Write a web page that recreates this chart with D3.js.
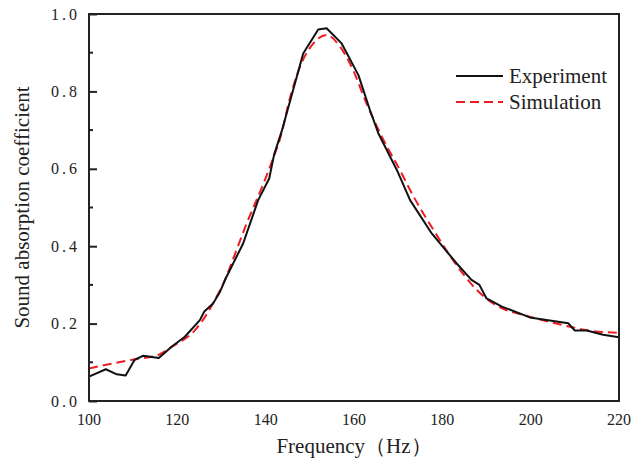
<!DOCTYPE html>
<html>
<head>
<meta charset="utf-8">
<script src="https://cdnjs.cloudflare.com/ajax/libs/d3/7.8.5/d3.min.js"></script>
<style>
  body { margin: 0; background: #fff; }
  text { font-family: "Liberation Serif", "Times New Roman", serif; fill: #222; }
</style>
</head>
<body>
<div id="chart"></div>
<script>
// experiment (solid black)
var expFreq = [100, 103.8, 106.3, 108.3, 110.3, 112.3, 115.8, 118.7, 121.7, 125.1, 126.1, 128.1, 129.7, 131,
    134.9, 138.3, 140.8, 141.9, 143.6, 148.5, 151.9, 153.8, 157.2, 161, 163.6, 165.5, 169.7, 172.7,
    177.6, 183.2, 186.6, 188.4, 190, 193.5, 199.8, 208.5, 210, 212.7, 216.4, 220];
var expAbs = [0.063, 0.082, 0.069, 0.066, 0.106, 0.117, 0.111, 0.140, 0.166, 0.209, 0.231, 0.252, 0.283, 0.318,
    0.407, 0.519, 0.575, 0.636, 0.696, 0.898, 0.960, 0.963, 0.924, 0.842, 0.752, 0.692, 0.597, 0.519,
    0.433, 0.356, 0.313, 0.300, 0.265, 0.244, 0.216, 0.201, 0.182, 0.182, 0.171, 0.165];

// simulation (red dashed)
var simFreq = [100, 103.6, 110.4, 115.7, 118.7, 124, 126.3, 128.5, 130.8, 132.7, 135.7, 139.5, 141.4, 143.8,
    145.1, 147.8, 150.8, 153.8, 156.8, 159.8, 162.5, 166.3, 170.8, 172.7, 178, 184, 187.8, 191.5,
    193.8, 199.1, 208.9, 212.7, 220];
var simAbs = [0.084, 0.093, 0.108, 0.119, 0.140, 0.183, 0.218, 0.261, 0.313, 0.369, 0.459, 0.562, 0.618, 0.700,
    0.765, 0.864, 0.924, 0.946, 0.916, 0.855, 0.778, 0.683, 0.588, 0.545, 0.442, 0.339, 0.287, 0.252,
    0.238, 0.220, 0.192, 0.183, 0.176];

var xTicks = [100, 120, 140, 160, 180, 200, 220];
var yTicks = [0, 0.2, 0.4, 0.6, 0.8, 1.0];
var yMinor = [0.1, 0.3, 0.5, 0.7, 0.9];
var legendNames = ["Experiment", "Simulation"];

var width = 644, height = 459;
var m = {top: 14, right: 25, bottom: 58, left: 89};

var x = d3.scaleLinear().domain([100, 220]).range([m.left, width - m.right]);
var y = d3.scaleLinear().domain([0, 1]).range([height - m.bottom, m.top]);

var svg = d3.select("#chart").append("svg")
    .attr("width", width)
    .attr("height", height);

// curves
var line = d3.line()
    .x(function (d) { return x(d[0]); })
    .y(function (d) { return y(d[1]); });

svg.append("path")
    .datum(d3.zip(simFreq, simAbs))
    .attr("d", line.curve(d3.curveMonotoneX))
    .attr("fill", "none")
    .attr("stroke", "#f01c24")
    .attr("stroke-width", 2)
    .attr("stroke-dasharray", "9,5");

svg.append("path")
    .datum(d3.zip(expFreq, expAbs))
    .attr("d", line.curve(d3.curveLinear))
    .attr("fill", "none")
    .attr("stroke", "#111")
    .attr("stroke-width", 2)
    .attr("stroke-linejoin", "round");

// frame
svg.append("rect")
    .attr("x", x(100))
    .attr("y", y(1))
    .attr("width", x(220) - x(100))
    .attr("height", y(0) - y(1))
    .attr("fill", "none")
    .attr("stroke", "#222")
    .attr("stroke-width", 2);

// y axis ticks (inward)
var yAxis = d3.axisRight(y).tickValues(yTicks).tickSize(8).tickFormat("");
svg.append("g")
    .attr("transform", "translate(" + x(100) + ",0)")
    .call(yAxis)
    .call(function (g) {
        g.select(".domain").remove();
        g.selectAll("line").attr("stroke", "#222").attr("stroke-width", 2);
    });

svg.append("g").selectAll("line")
    .data(yMinor)
    .enter().append("line")
    .attr("x1", x(100))
    .attr("x2", x(100) + 4)
    .attr("y1", function (d) { return y(d); })
    .attr("y2", function (d) { return y(d); })
    .attr("stroke", "#222")
    .attr("stroke-width", 2);

// tick labels
svg.append("g").selectAll("text")
    .data(yTicks)
    .enter().append("text")
    .attr("x", x(100) - 9)
    .attr("y", function (d) { return y(d); })
    .attr("dy", "0.35em")
    .attr("text-anchor", "end")
    .attr("font-size", 16)
    .attr("letter-spacing", 3)
    .text(function (d) { return d3.format(".1f")(d); });

svg.append("g").selectAll("text")
    .data(xTicks)
    .enter().append("text")
    .attr("x", function (d) { return x(d); })
    .attr("y", y(0) + 24)
    .attr("text-anchor", "middle")
    .attr("font-size", 16)
    .text(function (d) { return d; });

// axis titles
svg.append("text")
    .attr("x", (x(100) + x(220)) / 2)
    .attr("y", 453)
    .attr("text-anchor", "middle")
    .attr("font-size", 21)
    .text("Frequency（Hz）");

svg.append("text")
    .attr("transform", "translate(29," + (y(0) + y(1)) / 2 + ") rotate(-90)")
    .attr("text-anchor", "middle")
    .attr("font-size", 21)
    .text("Sound absorption coefficient");

// legend
var legend = svg.append("g").attr("transform", "translate(456,76)");
legend.selectAll("line")
    .data(legendNames)
    .enter().append("line")
    .attr("x1", 0)
    .attr("x2", 47)
    .attr("y1", function (d, i) { return i * 26; })
    .attr("y2", function (d, i) { return i * 26; })
    .attr("stroke", function (d, i) { return i ? "#f01c24" : "#111"; })
    .attr("stroke-width", 2)
    .attr("stroke-dasharray", function (d, i) { return i ? "9,5" : null; });

legend.selectAll("text")
    .data(legendNames)
    .enter().append("text")
    .attr("x", 53)
    .attr("y", function (d, i) { return i * 26 + 7; })
    .attr("font-size", 21)
    .text(function (d) { return d; });
</script>
</body>
</html>
